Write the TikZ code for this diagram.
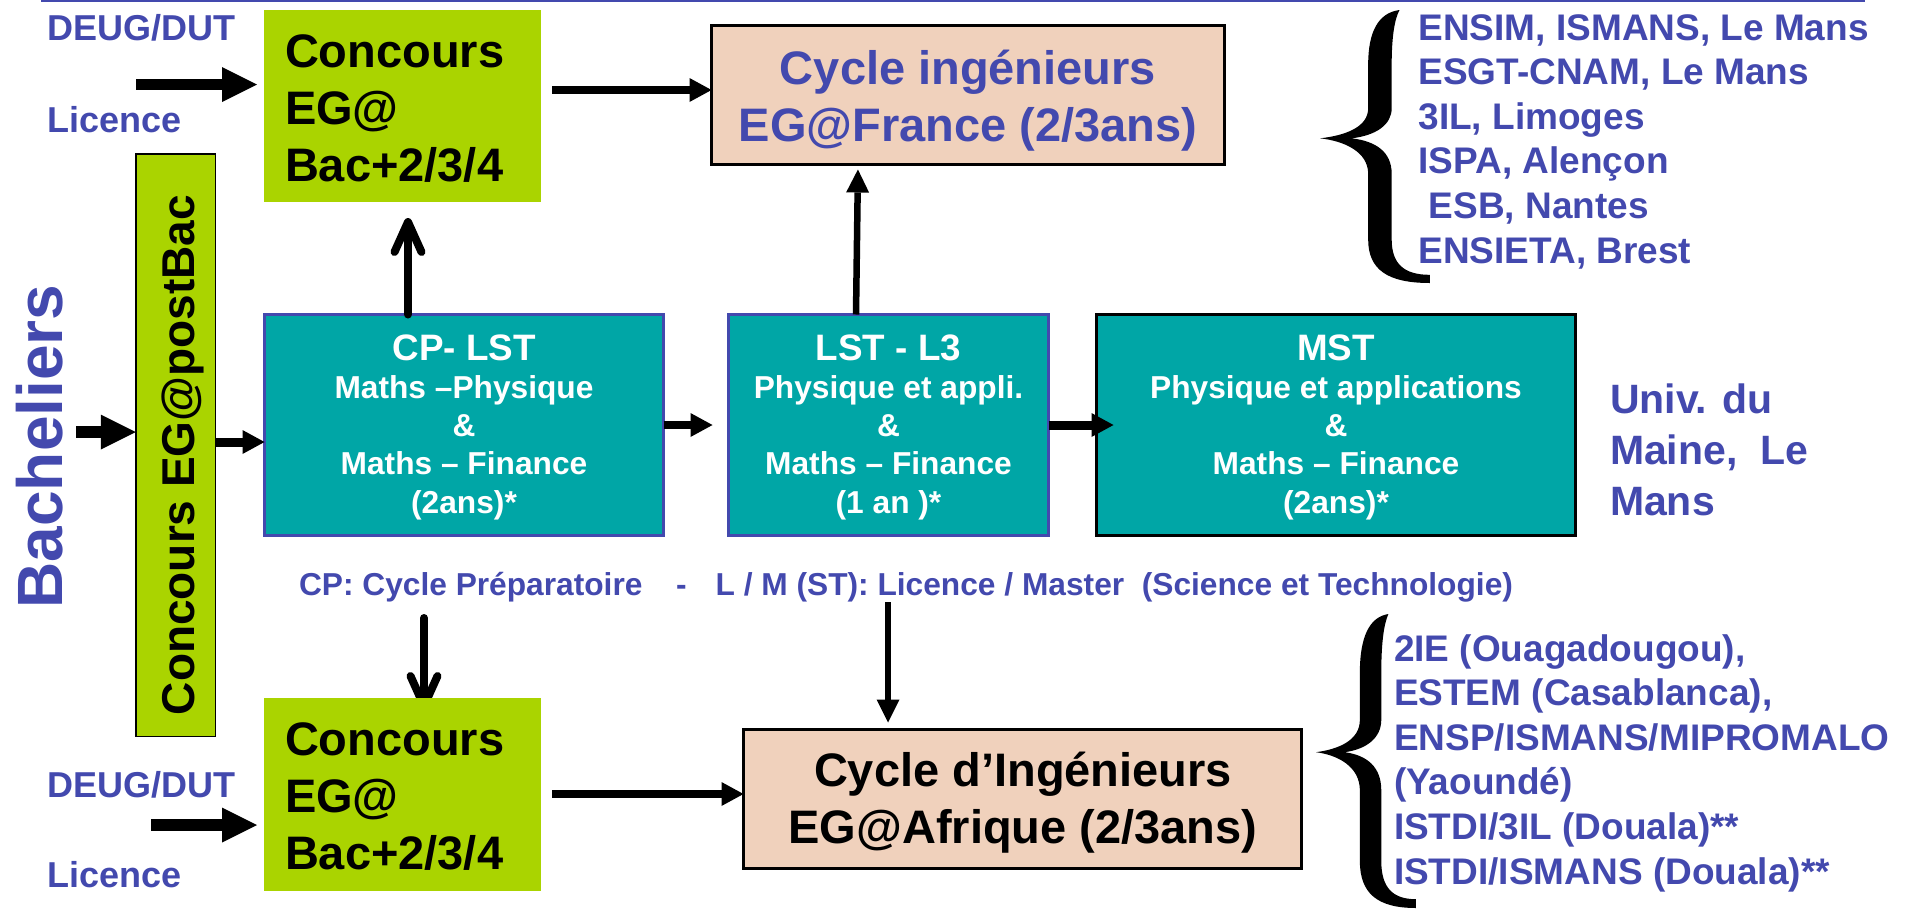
\documentclass[tikz,border=0pt]{standalone}
\usepackage{fontspec}
\setmainfont{Liberation Sans}
\usetikzlibrary{arrows.meta}
\pgfdeclarelayer{bg}
\pgfsetlayers{bg,main}
\definecolor{egblue}{RGB}{67,73,174}
\definecolor{eggreen}{RGB}{170,212,0}
\definecolor{egteal}{RGB}{0,166,166}
\definecolor{egpeach}{RGB}{240,209,188}
\newcommand{\fsz}[2]{\fontsize{#1pt}{#2pt}\selectfont}
\newcommand{\tstrut}[1]{\rule{0pt}{#1pt}}
\newcommand{\bstrut}[1]{\rule[-#1pt]{0pt}{#1pt}}
\newcommand{\egbrace}[4]{%
  \begin{scope}[shift={(#1,#2)}, x=#3pt, y=-#4pt]
    \fill[black] (0.71,0.0)
      .. controls (0.52,0.01) and (0.43,0.08) .. (0.43,0.20)
      -- (0.43,0.36)
      .. controls (0.43,0.43) and (0.22,0.46) .. (0.0,0.47)
      .. controls (0.22,0.48) and (0.43,0.52) .. (0.43,0.60)
      -- (0.43,0.84)
      .. controls (0.43,0.95) and (0.60,1.0) .. (0.98,1.0)
      -- (0.98,0.97)
      .. controls (0.75,0.97) and (0.64,0.93) .. (0.64,0.84)
      -- (0.64,0.60)
      .. controls (0.64,0.52) and (0.50,0.48) .. (0.28,0.47)
      .. controls (0.50,0.46) and (0.64,0.42) .. (0.64,0.36)
      -- (0.64,0.20)
      .. controls (0.64,0.09) and (0.67,0.03) .. (0.71,0.0)
      -- cycle;
  \end{scope}}
\begin{document}
\begin{tikzpicture}[x=1pt,y=-1pt,
  every node/.style={inner sep=0pt,outer sep=0pt},
  concbox/.style={fill=eggreen,minimum width=277pt,minimum height=192pt},
  tealbox/.style={fill=egteal,line width=3pt,minimum height=221pt},
  cycbox/.style={fill=egpeach,draw=black,line width=3pt,minimum height=139pt},
  bigtxt/.style={font=\bfseries\fsz{47}{57}},
  midtxt/.style={font=\bfseries\fsz{31.7}{38.25},text=white,align=center},
  listtxt/.style={font=\bfseries\fsz{37}{44.6},text=egblue,align=left,anchor=west},
  lbl/.style={font=\bfseries\fsz{36}{40},text=egblue,anchor=base west},
  blk/.style={-{Triangle[length=35pt,width=35pt,line width=0pt]},line width=12pt},
  arr/.style={-{Triangle[length=22pt,width=24pt,line width=0pt]},line width=8pt},
  thinarr/.style={-{Triangle[length=23pt,width=23pt,line width=0pt]},line width=6.5pt},
  barb/.style={-{Straight Barb[length=30pt,width=27pt,round]},line width=8pt,line cap=round}]
\useasboundingbox (0,0) rectangle (1917,911);

% top rule
\draw[egblue,line width=2.5pt] (41,1) -- (1865,1);

% boxes
\node[concbox] (conc1) at (402.5,106) {};
\node[concbox,minimum height=193pt] (conc2) at (402.5,794.5) {};
\node[fill=eggreen,draw=black,line width=1.5pt,minimum width=79.5pt,minimum height=582.5pt] (vbox) at (175.5,445) {};
\node[tealbox,draw=egblue,minimum width=399pt] (cplst) at (464,425) {};
\node[tealbox,draw=egblue,minimum width=320pt] (lst) at (888.5,425) {};
\node[tealbox,draw=black,minimum width=479pt] (mst) at (1336,425) {};
\node[cycbox,minimum width=513pt] (cycF) at (968,95) {};
\node[cycbox,minimum width=558pt] (cycA) at (1022.5,799) {};

% box texts
\node[bigtxt,anchor=west,align=left] (conc1t) at (285,107.55)
  {\tstrut{47}Concours\\EG@\\Bac+2/3/4\bstrut{14.1}};
\node[bigtxt,anchor=west,align=left] (conc2t) at (285,796.05)
  {\tstrut{47}Concours\\EG@\\Bac+2/3/4\bstrut{14.1}};
\node[rotate=90,anchor=base,font=\bfseries\fsz{46}{50}] (vboxt) at (194,455) {Concours EG@postBac};
\node[rotate=90,anchor=base,font=\bfseries\fsz{64}{70},text=egblue] (bach) at (62,446.5) {Bacheliers};
\node[bigtxt,text=egblue,align=center] (cycFt) at (968,96.05)
  {\tstrut{47}Cycle ingénieurs\\EG@France (2/3ans)\bstrut{14.1}};
\node[bigtxt,align=center] (cycAt) at (1023,798.55)
  {\tstrut{47}Cycle d’Ingénieurs\\EG@Afrique (2/3ans)\bstrut{14.1}};
\node[midtxt] (cplstt) at (464,421.5)
  {\fsz{36.8}{38.25}\tstrut{40}CP- LST\\\fsz{31.7}{38.25}Maths –Physique\\\fsz{31.7}{38.25}\&\\\fsz{31.7}{38.25}Maths – Finance\\\fsz{31.7}{38.25}(2ans)*\bstrut{10}};
\node[midtxt] (lstt) at (888.5,421.5)
  {\fsz{36.8}{38.25}\tstrut{40}LST - L3\\\fsz{31.7}{38.25}Physique et appli.\\\fsz{31.7}{38.25}\&\\\fsz{31.7}{38.25}Maths – Finance\\\fsz{31.7}{38.25}(1 an )*\bstrut{10}};
\node[midtxt] (mstt) at (1336,421.5)
  {\fsz{36.8}{38.25}\tstrut{40}MST\\\fsz{31.7}{38.25}Physique et applications\\\fsz{31.7}{38.25}\&\\\fsz{31.7}{38.25}Maths – Finance\\\fsz{31.7}{38.25}(2ans)*\bstrut{10}};

% side labels
\node[lbl] (deug1) at (47.5,40) {DEUG/DUT};
\node[lbl] (lic1) at (47.5,132) {Licence};
\node[lbl] (deug2) at (47.5,797) {DEUG/DUT};
\node[lbl] (lic2) at (47.5,887) {Licence};
\node[anchor=west,align=left,font=\bfseries\fsz{41}{51},text=egblue] (univ) at (1610,447.5)
  {\tstrut{45}Univ. du\\Maine,\ \ Le\\Mans\bstrut{12}};
\node[anchor=base west,font=\bfseries\fsz{31.7}{38},text=egblue] (capt) at (299,595)
  {CP: Cycle Préparatoire\hspace{33.5pt}-\hspace{29pt}L / M (ST): Licence / Master\ \ (Science et Technologie)};

% school lists and braces
\egbrace{1320}{10}{112}{273}
\node[listtxt] (listF) at (1418.5,136.5)
  {\tstrut{40}ENSIM, ISMANS, Le Mans\\ESGT-CNAM, Le Mans\\3IL, Limoges\\ISPA, Alençon\\\hspace*{10.3pt}ESB, Nantes\\ENSIETA, Brest\bstrut{10}};
\egbrace{1316}{614}{102}{294}
\node[listtxt] (listA) at (1394,757.5)
  {\tstrut{40}2IE (Ouagadougou),\\ESTEM (Casablanca),\\ENSP/ISMANS/MIPROMALO\\(Yaoundé)\\ISTDI/3IL (Douala)**\\ISTDI/ISMANS (Douala)**\bstrut{10}};

% connectors
\coordinate (inF) at (136,84.5);
\coordinate (inA) at (151,825);
\coordinate (inB) at (76,432);
\coordinate (dnC) at (424,618);
\coordinate (dnA) at (888,602);
\draw[blk,line width=11pt,shorten >=7pt] (inF) -- (inF -| conc1.west);
\draw[blk,shorten >=7pt] (inA) -- (inA -| conc2.west);
\draw[blk] (inB) -- (inB -| vbox.west);
\draw[arr,line width=9pt] (vbox.east |- 0,442) -- (cplst.west |- 0,442);
\draw[arr,shorten <=11pt] (conc1.east |- 0,90) -- (cycF.west |- 0,90);
\draw[arr,shorten <=11pt] (conc2.east |- 0,794) -- (cycA.west |- 0,794);
\draw[arr,shorten >=16pt] (cplst.east) -- (lst.west);
\draw[arr,line width=9pt,shorten >=-17pt] (lst.east) -- (mst.west);
\draw[thinarr,shorten >=5pt] (lst.north -| 856,0) -- (cycF.south -| 858,0);
\draw[thinarr,shorten >=7pt] (dnA) -- (cycA.north -| dnA);
\draw[barb,shorten >=16pt] (cplst.north -| 408,0) -- (conc1.south -| 408,0);
\begin{pgfonlayer}{bg}
\draw[barb,shorten >=-12pt] (dnC) -- (conc2.north -| dnC);
\end{pgfonlayer}
\end{tikzpicture}
\end{document}
